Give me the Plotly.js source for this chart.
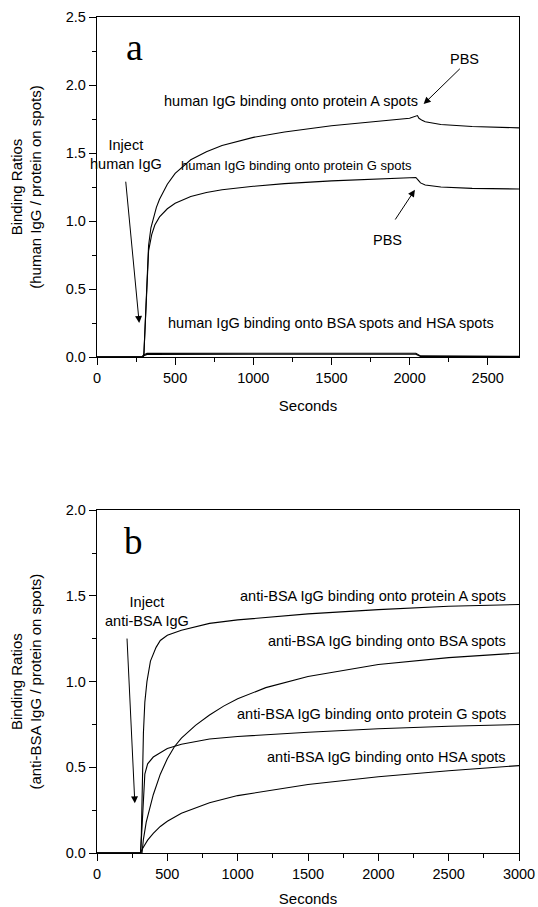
<!DOCTYPE html>
<html>
<head>
<meta charset="utf-8">
<script src="https://cdn.plot.ly/plotly-3.0.1.min.js"></script>
<style>html,body{margin:0;padding:0;background:#fff;}#chart{width:538px;height:907px;}</style>
</head>
<body>
<div id="chart"></div>
<script>
// ---------- Panel a: human IgG ----------
var aProtA_t = [0, 290, 300, 310, 320, 330, 345, 360, 380, 400, 450, 500, 600, 700, 800, 1000, 1200, 1500, 1800, 2000, 2050, 2060, 2080, 2100, 2200, 2400, 2700];
var aProtA_y = [0, 0, 0.02, 0.3, 0.6, 0.82, 0.95, 1.02, 1.1, 1.16, 1.27, 1.35, 1.45, 1.51, 1.555, 1.615, 1.655, 1.7, 1.735, 1.755, 1.775, 1.755, 1.74, 1.73, 1.71, 1.695, 1.685];
var aProtG_t = [0, 290, 300, 310, 320, 330, 350, 370, 400, 450, 500, 600, 700, 800, 1000, 1200, 1500, 1800, 2000, 2040, 2055, 2070, 2100, 2200, 2400, 2700];
var aProtG_y = [0, 0, 0.02, 0.3, 0.6, 0.78, 0.9, 0.97, 1.03, 1.09, 1.13, 1.18, 1.21, 1.23, 1.255, 1.275, 1.295, 1.31, 1.315, 1.32, 1.3, 1.28, 1.265, 1.25, 1.24, 1.235];
var aBSA_t = [0, 295, 300, 320, 1000, 2040, 2070, 2700];
var aBSA_y = [0, 0, 0.015, 0.027, 0.028, 0.028, 0.008, 0.005];
var aHSA_t = [0, 295, 300, 320, 1000, 2040, 2070, 2700];
var aHSA_y = [0, 0, 0.01, 0.019, 0.02, 0.02, 0.004, 0.003];

// ---------- Panel b: anti-BSA IgG ----------
var bProtA_t = [0, 310, 315, 320, 325, 330, 340, 355, 380, 420, 450, 500, 600, 800, 1000, 1500, 2000, 2500, 3000];
var bProtA_y = [0, 0, 0.1, 0.3, 0.5, 0.7, 0.88, 1.0, 1.12, 1.2, 1.24, 1.27, 1.3, 1.34, 1.36, 1.395, 1.42, 1.44, 1.45];
var bBSA_t = [0, 320, 330, 350, 400, 450, 500, 550, 600, 700, 800, 900, 1000, 1200, 1500, 2000, 2500, 3000];
var bBSA_y = [0, 0, 0.08, 0.18, 0.34, 0.46, 0.55, 0.62, 0.67, 0.745, 0.805, 0.857, 0.9, 0.965, 1.03, 1.1, 1.14, 1.167];
var bProtG_t = [0, 310, 320, 330, 340, 360, 400, 500, 600, 800, 1000, 1500, 2000, 2500, 3000];
var bProtG_y = [0, 0, 0.15, 0.35, 0.46, 0.52, 0.56, 0.61, 0.635, 0.665, 0.68, 0.705, 0.725, 0.74, 0.75];
var bHSA_t = [0, 310, 320, 340, 360, 400, 450, 500, 600, 800, 1000, 1500, 2000, 2500, 3000];
var bHSA_y = [0, 0, 0.02, 0.05, 0.075, 0.115, 0.155, 0.185, 0.232, 0.293, 0.335, 0.4, 0.445, 0.48, 0.51];

// ---------- Labels ----------
var panelLabels = ['a', 'b'];
var aLabels = ['human IgG binding onto protein A spots', 'human IgG binding onto protein G spots', 'human IgG binding onto BSA spots and HSA spots'];
var bLabels = ['anti-BSA IgG binding onto protein A spots', 'anti-BSA IgG binding onto BSA spots', 'anti-BSA IgG binding onto protein G spots', 'anti-BSA IgG binding onto HSA spots'];
var injectLabels = ['Inject<br>human IgG', 'Inject<br>anti-BSA IgG'];
var pbsLabel = 'PBS';
var xTitle = 'Seconds';
var yTitles = ['Binding Ratios<br>(human IgG / protein on spots)', 'Binding Ratios<br>(anti-BSA IgG / protein on spots)'];

var SANS = 'Liberation Sans, Arial, sans-serif';
var SERIF = 'Liberation Serif, Times New Roman, serif';
var FS = 14.5;
var line = {color: '#000', width: 1.1};

function tr(x, y, xa, ya, name) {
  return {x: x, y: y, xaxis: xa, yaxis: ya, type: 'scatter', mode: 'lines', line: line, name: name, hoverinfo: 'skip'};
}

var data = [
  tr(aProtA_t, aProtA_y, 'x', 'y', 'protein A'),
  tr(aProtG_t, aProtG_y, 'x', 'y', 'protein G'),
  tr(aBSA_t, aBSA_y, 'x', 'y', 'BSA'),
  tr(aHSA_t, aHSA_y, 'x', 'y', 'HSA'),
  tr(bProtA_t, bProtA_y, 'x2', 'y2', 'protein A'),
  tr(bBSA_t, bBSA_y, 'x2', 'y2', 'BSA'),
  tr(bProtG_t, bProtG_y, 'x2', 'y2', 'protein G'),
  tr(bHSA_t, bHSA_y, 'x2', 'y2', 'HSA')
];

function axisCommon(extra) {
  var a = {
    showgrid: false, zeroline: false, showline: true, linecolor: '#000', linewidth: 1.3,
    mirror: true, ticks: 'outside', ticklen: 7, tickwidth: 1, tickcolor: '#000',
    tickfont: {family: SANS, size: FS, color: '#000'}, automargin: false
  };
  for (var k in extra) a[k] = extra[k];
  return a;
}
var minorTicks = function (d) { return {dtick: d, ticks: 'outside', ticklen: 4, tickcolor: '#000', tickwidth: 1}; };

function txt(xr, yr, x, y, text, xanchor, size) {
  return {xref: xr, yref: yr, x: x, y: y, text: text, showarrow: false,
    font: {family: SANS, size: size || FS, color: '#000'}, xanchor: xanchor || 'center', yanchor: 'middle', align: 'center'};
}
function arrow(xr, yr, x0, y0, x1, y1) {
  return {xref: xr, yref: yr, axref: xr, ayref: yr, x: x1, y: y1, ax: x0, ay: y0, text: '', showarrow: true,
    arrowhead: 2, arrowsize: 1.4, arrowwidth: 1, arrowcolor: '#000', standoff: 0, startstandoff: 0};
}

var annotations = [
  {xref: 'x', yref: 'y', x: 240, y: 2.28, text: panelLabels[0], showarrow: false, font: {family: SERIF, size: 38, color: '#000'}},
  {xref: 'x2', yref: 'y2', x: 260, y: 1.82, text: panelLabels[1], showarrow: false, font: {family: SERIF, size: 37, color: '#000'}},
  txt('x', 'y', 2067, 1.88, aLabels[0], 'right'),
  txt('x', 'y', 2030, 1.41, aLabels[1], 'right', 13),
  txt('x', 'y', 2551, 0.25, aLabels[2], 'right'),
  txt('x', 'y', 186, 1.49, injectLabels[0]),
  txt('x', 'y', 2353, 2.19, pbsLabel),
  txt('x', 'y', 1858, 0.86, pbsLabel),
  arrow('x', 'y', 183, 1.3, 270, 0.25),
  arrow('x', 'y', 2331, 2.13, 2090, 1.86),
  arrow('x', 'y', 1902, 1.0, 2034, 1.23),
  txt('x2', 'y2', 2924, 1.5, bLabels[0], 'right'),
  txt('x2', 'y2', 2924, 1.235, bLabels[1], 'right'),
  txt('x2', 'y2', 2924, 0.81, bLabels[2], 'right'),
  txt('x2', 'y2', 2924, 0.56, bLabels[3], 'right'),
  txt('x2', 'y2', 354, 1.41, injectLabels[1]),
  arrow('x2', 'y2', 213, 1.26, 269, 0.29)
];

var titleFont = {family: SANS, size: 15, color: '#000'};
var layout = {
  width: 538, height: 907,
  margin: {l: 97, r: 19, t: 17, b: 54},
  paper_bgcolor: '#fff', plot_bgcolor: '#fff',
  showlegend: false,
  font: {family: SANS, color: '#000'},
  xaxis: axisCommon({anchor: 'y', domain: [0, 1], range: [0, 2700], dtick: 500, tick0: 0,
    minor: minorTicks(250), title: {text: xTitle, font: titleFont, standoff: 15}}),
  yaxis: axisCommon({anchor: 'x', domain: [0.5933, 1], range: [0, 2.5], dtick: 0.5, tick0: 0, tickformat: '.1f',
    minor: minorTicks(0.25), title: {text: yTitles[0], font: titleFont, standoff: 20}}),
  xaxis2: axisCommon({anchor: 'y2', domain: [0, 1], range: [0, 3000], dtick: 500, tick0: 0,
    minor: minorTicks(250), title: {text: xTitle, font: titleFont, standoff: 15}}),
  yaxis2: axisCommon({anchor: 'x2', domain: [0, 0.41], range: [0, 2.0], dtick: 0.5, tick0: 0, tickformat: '.1f',
    minor: minorTicks(0.25), title: {text: yTitles[1], font: titleFont, standoff: 20}}),
  annotations: annotations
};

Plotly.newPlot('chart', data, layout, {displayModeBar: false, staticPlot: true});
</script>
</body>
</html>
